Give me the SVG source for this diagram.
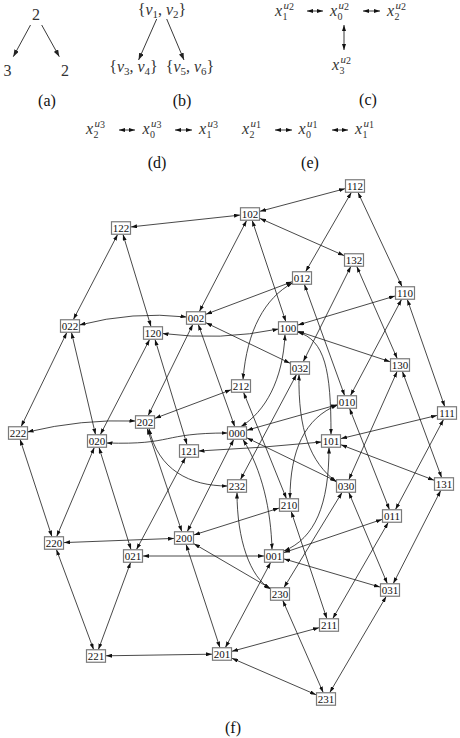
<svg xmlns="http://www.w3.org/2000/svg" width="460" height="738" viewBox="0 0 460 738">
<style>
.bg{fill:#fff}
.e path{fill:none;stroke:#1a1a1a;stroke-width:0.8;marker-start:url(#ah);marker-end:url(#ah)}
.n rect{fill:#fff;stroke:#7a7a7a;stroke-width:1.2}
.n text{font-family:'Liberation Serif','DejaVu Serif','Times New Roman',serif;font-size:11px;text-anchor:middle;fill:#111}
.lab{font-family:'Liberation Serif','DejaVu Serif','Times New Roman',serif;font-size:16px;text-anchor:middle;fill:#111}
.rm{font-family:'Liberation Serif','DejaVu Serif','Times New Roman',serif;font-size:16px;text-anchor:middle;fill:#333}
.mi{font-family:'Liberation Serif','DejaVu Serif','Times New Roman',serif;font-size:16px;font-style:italic;fill:#333}
.sb{font-family:'Liberation Serif','DejaVu Serif','Times New Roman',serif;font-size:10px;fill:#333}
.sp{font-family:'Liberation Serif','DejaVu Serif','Times New Roman',serif;font-size:11px;fill:#333}
.ta{fill:none;stroke:#222;stroke-width:0.9;marker-end:url(#ah2)}
.tb{fill:none;stroke:#222;stroke-width:0.9;marker-start:url(#ah);marker-end:url(#ah)}
</style>
<defs>
<marker id="ah" viewBox="0 0 6 4" refX="6" refY="2" markerWidth="6" markerHeight="4" markerUnits="userSpaceOnUse" orient="auto-start-reverse"><path d="M0,0 L6,2 L0,4 z" fill="#111"/></marker>
<marker id="ah2" viewBox="0 0 7 5" refX="7" refY="2.5" markerWidth="7" markerHeight="5" markerUnits="userSpaceOnUse" orient="auto-start-reverse"><path d="M0,0 L7,2.5 L0,5 z" fill="#222"/></marker>
</defs>
<rect class="bg" x="0" y="0" width="460" height="738"/>

<g id="sub-a">
<text class="rm" x="36" y="20">2</text>
<text class="rm" x="7.5" y="76">3</text>
<text class="rm" x="65" y="76">2</text>
<path class="ta" d="M30.5,25 L13.3,56.7"/>
<path class="ta" d="M41.7,25 L59.3,56.7"/>
<text class="lab" x="47" y="106">(a)</text>
</g>

<g id="sub-b">
<text class="rm" x="162" y="15">{<tspan font-style="italic">v</tspan><tspan font-size="11" dy="3">1</tspan><tspan dy="-3">, </tspan><tspan font-style="italic">v</tspan><tspan font-size="11" dy="3">2</tspan><tspan dy="-3">}</tspan></text>
<text class="rm" x="133.5" y="72">{<tspan font-style="italic">v</tspan><tspan font-size="11" dy="3">3</tspan><tspan dy="-3">, </tspan><tspan font-style="italic">v</tspan><tspan font-size="11" dy="3">4</tspan><tspan dy="-3">}</tspan></text>
<text class="rm" x="190" y="72">{<tspan font-style="italic">v</tspan><tspan font-size="11" dy="3">5</tspan><tspan dy="-3">, </tspan><tspan font-style="italic">v</tspan><tspan font-size="11" dy="3">6</tspan><tspan dy="-3">}</tspan></text>
<path class="ta" d="M156.7,19 L138.6,60"/>
<path class="ta" d="M166.7,19 L184,60"/>
<text class="lab" x="182" y="106">(b)</text>
</g>

<g id="sub-c">
<text class="mi" x="275" y="16">x</text><text class="sb" x="282.5" y="19.5">1</text><text class="sp" x="283.5" y="9"><tspan font-style="italic">u</tspan><tspan font-size="10" dy="0.5">2</tspan></text>
<text class="mi" x="330" y="16">x</text><text class="sb" x="337.5" y="19.5">0</text><text class="sp" x="338.5" y="9"><tspan font-style="italic">u</tspan><tspan font-size="10" dy="0.5">2</tspan></text>
<text class="mi" x="387" y="16">x</text><text class="sb" x="394.5" y="19.5">2</text><text class="sp" x="395.5" y="9"><tspan font-style="italic">u</tspan><tspan font-size="10" dy="0.5">2</tspan></text>
<text class="mi" x="332" y="70">x</text><text class="sb" x="339.5" y="73.5">3</text><text class="sp" x="340.5" y="63"><tspan font-style="italic">u</tspan><tspan font-size="10" dy="0.5">2</tspan></text>
<path class="tb" d="M307,11 L323,11"/>
<path class="tb" d="M363,11 L380,11"/>
<path class="tb" d="M344,25 L344,50"/>
<text class="lab" x="368" y="105">(c)</text>
</g>

<g id="sub-d">
<text class="mi" x="86" y="134">x</text><text class="sb" x="93.5" y="137.5">2</text><text class="sp" x="94.5" y="127"><tspan font-style="italic">u</tspan><tspan font-size="10" dy="0.5">3</tspan></text>
<text class="mi" x="142.5" y="134">x</text><text class="sb" x="150" y="137.5">0</text><text class="sp" x="151" y="127"><tspan font-style="italic">u</tspan><tspan font-size="10" dy="0.5">3</tspan></text>
<text class="mi" x="199" y="134">x</text><text class="sb" x="206.5" y="137.5">1</text><text class="sp" x="207.5" y="127"><tspan font-style="italic">u</tspan><tspan font-size="10" dy="0.5">3</tspan></text>
<path class="tb" d="M119,130 L135,130"/>
<path class="tb" d="M175,130 L192,130"/>
<text class="lab" x="157" y="168">(d)</text>
</g>

<g id="sub-e">
<text class="mi" x="242" y="134">x</text><text class="sb" x="249.5" y="137.5">2</text><text class="sp" x="250.5" y="127"><tspan font-style="italic">u</tspan><tspan font-size="10" dy="0.5">1</tspan></text>
<text class="mi" x="298.5" y="134">x</text><text class="sb" x="306" y="137.5">0</text><text class="sp" x="307" y="127"><tspan font-style="italic">u</tspan><tspan font-size="10" dy="0.5">1</tspan></text>
<text class="mi" x="355" y="134">x</text><text class="sb" x="362.5" y="137.5">1</text><text class="sp" x="363.5" y="127"><tspan font-style="italic">u</tspan><tspan font-size="10" dy="0.5">1</tspan></text>
<path class="tb" d="M275,130 L292,130"/>
<path class="tb" d="M332,130 L348,130"/>
<text class="lab" x="310" y="168">(e)</text>
</g>

<g id="edges" class="e">
<path d="M233.7,439.5 L187.3,531.5"/>
<path d="M270.6,562.5 L225.4,647.5"/>
<path d="M199.4,311.5 L246.6,220.5"/>
<path d="M192.8,324.5 L148.2,415.5"/>
<path d="M350.5,395.5 L401.5,299.5"/>
<path d="M395.5,509.5 L443.5,419.5"/>
<path d="M388.2,522.5 L332.8,618.5"/>
<path d="M305.7,271.5 L351.3,192.5"/>
<path d="M100.4,434.5 L149.6,339.5"/>
<path d="M94.3,447.5 L56.7,536.5"/>
<path d="M136.5,549.5 L185.5,457.5"/>
<path d="M130.6,562.5 L98.4,649.5"/>
<path d="M73.4,319.5 L117.6,234.5"/>
<path d="M66.8,332.5 L21.2,426.5"/>
<path d="M348.9,479.5 L397.1,371.5"/>
<path d="M342,492.5 L284,587.5"/>
<path d="M393.3,583.5 L440.7,490.5"/>
<path d="M386.2,596.5 L329.8,692.5"/>
<path d="M303.3,361.5 L350.8,266.5"/>
<path d="M296.5,374.5 L240.5,479.5"/>
<path d="M247,430.2 L337,404.8"/>
<path d="M247,437.9 L336,481.1"/>
<path d="M284,552.6 L382,519.4"/>
<path d="M264,556 L143,556"/>
<path d="M284,558.9 L380,587.1"/>
<path d="M206,314.2 L292,281.8"/>
<path d="M206,322.8 L290,363.2"/>
<path d="M298,325 L395,296"/>
<path d="M298,331.3 L390,361.7"/>
<path d="M341,438.6 L437,415.4"/>
<path d="M341,444.8 L434,480.2"/>
<path d="M260,211.3 L345,188.7"/>
<path d="M240,215.1 L131,226.9"/>
<path d="M260,218.4 L344,255.6"/>
<path d="M194,534.9 L279,508.1"/>
<path d="M174,538.4 L64,542.6"/>
<path d="M194,543.8 L270,588.2"/>
<path d="M232,651.3 L319,627.7"/>
<path d="M212,654.2 L106,655.8"/>
<path d="M232,658.3 L316,694.7"/>
<path d="M155,418.3 L231,389.8"/>
<path d="M234.7,426.5 L198.3,324.5"/>
<path d="M349.6,408.5 L389.4,509.5"/>
<path d="M344.6,395.5 L304.4,284.5"/>
<path d="M99,447.5 L131,549.5"/>
<path d="M95.5,434.5 L71.5,332.5"/>
<path d="M348.8,492.5 L387.3,583.5"/>
<path d="M285.8,321.5 L252.2,220.5"/>
<path d="M407.3,299.5 L444.7,406.5"/>
<path d="M402,286.5 L358,192.5"/>
<path d="M155,339.5 L187,444.5"/>
<path d="M151,326.5 L123,234.5"/>
<path d="M402.4,371.5 L441.6,477.5"/>
<path d="M397.2,358.5 L356.8,266.5"/>
<path d="M186.1,544.5 L219.9,647.5"/>
<path d="M181.8,531.5 L147.2,428.5"/>
<path d="M291.2,511.5 L326.8,618.5"/>
<path d="M286.4,498.5 L243.6,392.5"/>
<path d="M56.4,549.5 L93.6,649.5"/>
<path d="M51.9,536.5 L20.1,439.5"/>
<path d="M282.8,600.5 L323.2,692.5"/>
<path d="M285,334.5 C283,380 265,412 241,426.5"/>
<path d="M106.5,443 C175,445 160,433 227.5,433"/>
<path d="M243,439.5 C262,470 271,510 272,549.5"/>
<path d="M329,447.5 C329,505 315,538 284,551"/>
<path d="M79.5,325 Q133,311 186.5,317"/>
<path d="M337.5,405 C305,418 290,450 290,498.5"/>
<path d="M243,379.5 C247,330 265,298 292.5,283"/>
<path d="M299,374.5 C298,430 310,462 336.5,482"/>
<path d="M297.5,332 C325,340 331,370 331,434.5"/>
<path d="M162.5,333.5 Q220,341 278.5,329"/>
<path d="M198.5,451 Q262,448 321.5,442"/>
<path d="M27.5,432 Q81,419 135.5,421"/>
<path d="M149,428.5 C158,470 190,486 227.5,486"/>
<path d="M237,492.5 C237,540 250,577 270.5,589"/>
</g>

<g id="n112" class="n"><rect x="345.5" y="179.75" width="19" height="12.5"/><text x="355" y="189.8">112</text></g>
<g id="n102" class="n"><rect x="240.5" y="207.75" width="19" height="12.5"/><text x="250" y="217.8">102</text></g>
<g id="n122" class="n"><rect x="111.5" y="221.75" width="19" height="12.5"/><text x="121" y="231.8">122</text></g>
<g id="n132" class="n"><rect x="344.5" y="253.75" width="19" height="12.5"/><text x="354" y="263.8">132</text></g>
<g id="n012" class="n"><rect x="292.5" y="271.75" width="19" height="12.5"/><text x="302" y="281.8">012</text></g>
<g id="n110" class="n"><rect x="395.5" y="286.75" width="19" height="12.5"/><text x="405" y="296.8">110</text></g>
<g id="n022" class="n"><rect x="60.5" y="319.75" width="19" height="12.5"/><text x="70" y="329.8">022</text></g>
<g id="n002" class="n"><rect x="186.5" y="311.75" width="19" height="12.5"/><text x="196" y="321.8">002</text></g>
<g id="n120" class="n"><rect x="143.5" y="326.75" width="19" height="12.5"/><text x="153" y="336.8">120</text></g>
<g id="n100" class="n"><rect x="278.5" y="321.75" width="19" height="12.5"/><text x="288" y="331.8">100</text></g>
<g id="n130" class="n"><rect x="390.5" y="358.75" width="19" height="12.5"/><text x="400" y="368.8">130</text></g>
<g id="n032" class="n"><rect x="290.5" y="361.75" width="19" height="12.5"/><text x="300" y="371.8">032</text></g>
<g id="n212" class="n"><rect x="231.5" y="379.75" width="19" height="12.5"/><text x="241" y="389.8">212</text></g>
<g id="n010" class="n"><rect x="337.5" y="395.75" width="19" height="12.5"/><text x="347" y="405.8">010</text></g>
<g id="n111" class="n"><rect x="437.5" y="406.75" width="19" height="12.5"/><text x="447" y="416.8">111</text></g>
<g id="n222" class="n"><rect x="8.5" y="426.75" width="19" height="12.5"/><text x="18" y="436.8">222</text></g>
<g id="n202" class="n"><rect x="135.5" y="415.75" width="19" height="12.5"/><text x="145" y="425.8">202</text></g>
<g id="n020" class="n"><rect x="87.5" y="434.75" width="19" height="12.5"/><text x="97" y="444.8">020</text></g>
<g id="n000" class="n"><rect x="227.5" y="426.75" width="19" height="12.5"/><text x="237" y="436.8">000</text></g>
<g id="n121" class="n"><rect x="179.5" y="444.75" width="19" height="12.5"/><text x="189" y="454.8">121</text></g>
<g id="n101" class="n"><rect x="321.5" y="434.75" width="19" height="12.5"/><text x="331" y="444.8">101</text></g>
<g id="n232" class="n"><rect x="227.5" y="479.75" width="19" height="12.5"/><text x="237" y="489.8">232</text></g>
<g id="n030" class="n"><rect x="336.5" y="479.75" width="19" height="12.5"/><text x="346" y="489.8">030</text></g>
<g id="n131" class="n"><rect x="434.5" y="477.75" width="19" height="12.5"/><text x="444" y="487.8">131</text></g>
<g id="n210" class="n"><rect x="279.5" y="498.75" width="19" height="12.5"/><text x="289" y="508.8">210</text></g>
<g id="n011" class="n"><rect x="382.5" y="509.75" width="19" height="12.5"/><text x="392" y="519.8">011</text></g>
<g id="n220" class="n"><rect x="44.5" y="536.75" width="19" height="12.5"/><text x="54" y="546.8">220</text></g>
<g id="n200" class="n"><rect x="174.5" y="531.75" width="19" height="12.5"/><text x="184" y="541.8">200</text></g>
<g id="n021" class="n"><rect x="123.5" y="549.75" width="19" height="12.5"/><text x="133" y="559.8">021</text></g>
<g id="n001" class="n"><rect x="264.5" y="549.75" width="19" height="12.5"/><text x="274" y="559.8">001</text></g>
<g id="n230" class="n"><rect x="270.5" y="587.75" width="19" height="12.5"/><text x="280" y="597.8">230</text></g>
<g id="n031" class="n"><rect x="380.5" y="583.75" width="19" height="12.5"/><text x="390" y="593.8">031</text></g>
<g id="n211" class="n"><rect x="319.5" y="618.75" width="19" height="12.5"/><text x="329" y="628.8">211</text></g>
<g id="n221" class="n"><rect x="86.5" y="649.75" width="19" height="12.5"/><text x="96" y="659.8">221</text></g>
<g id="n201" class="n"><rect x="212.5" y="647.75" width="19" height="12.5"/><text x="222" y="657.8">201</text></g>
<g id="n231" class="n"><rect x="316.5" y="692.75" width="19" height="12.5"/><text x="326" y="702.8">231</text></g>

<text class="lab" x="233" y="733">(f)</text>
</svg>
